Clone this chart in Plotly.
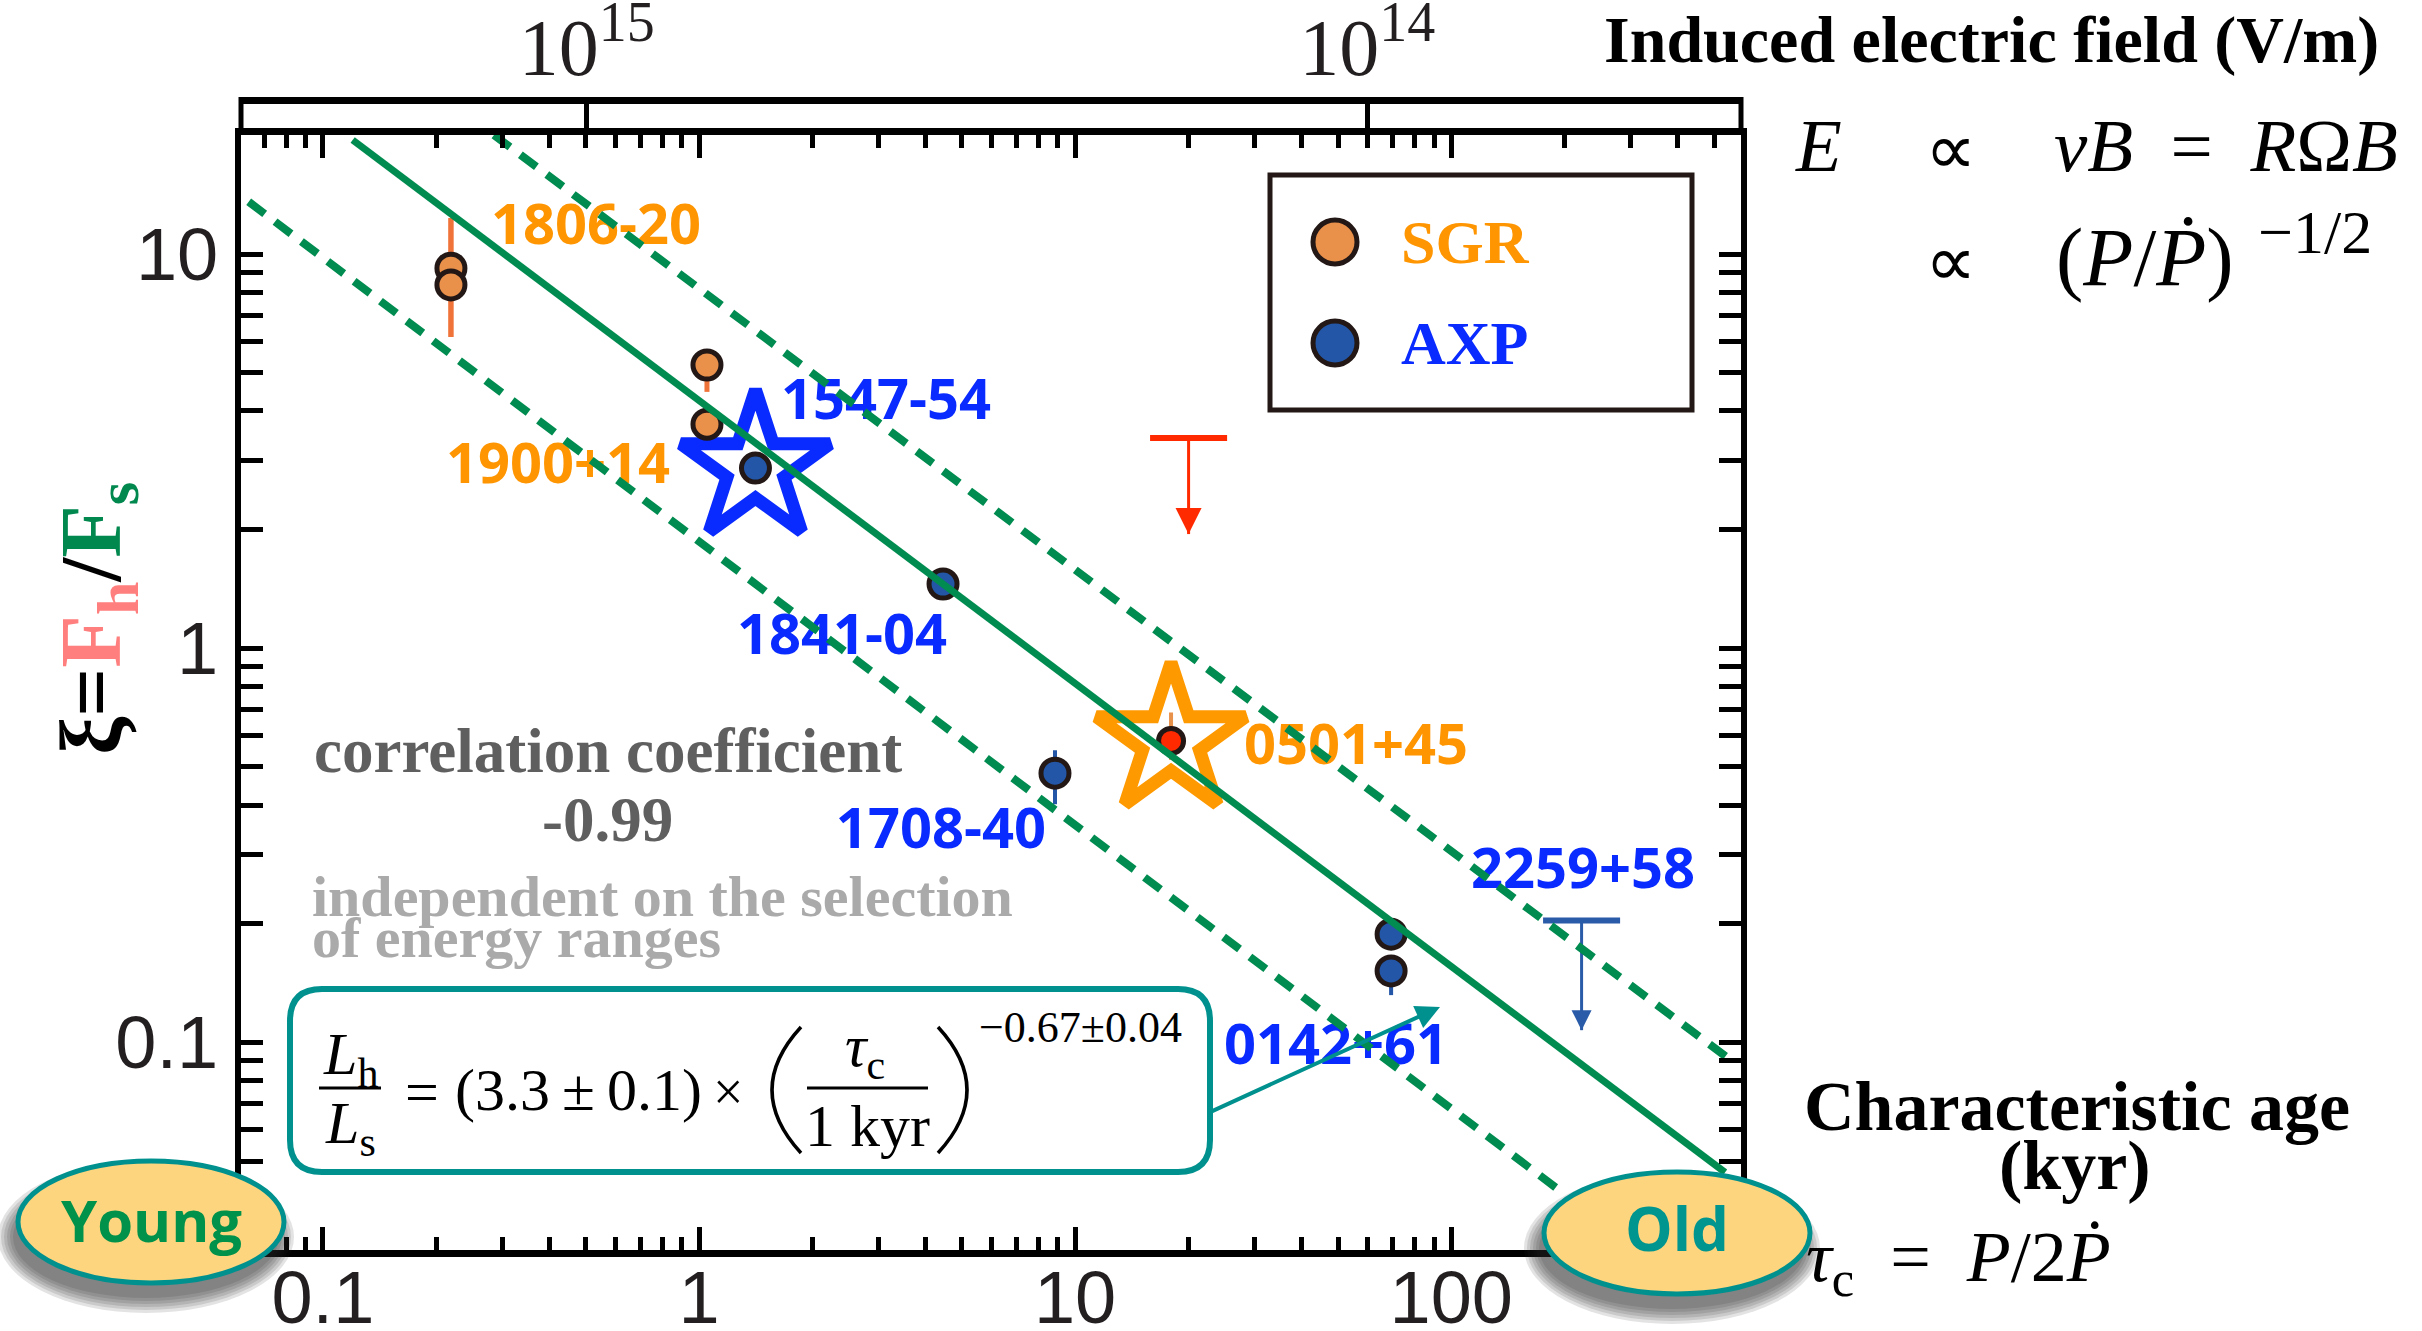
import plotly.graph_objects as go

# ---------------- data ----------------
# hardness ratio xi = F_h / F_s against characteristic age tau_c (kyr)
sgr_age = [0.219, 0.219, 1.05, 1.05]            # SGR 1806-20 (x2), SGR 1900+14 (x2)
sgr_xi = [9.21, 8.35, 5.23, 3.70]
sgr_xi_hi = [12.34, 12.34, 5.40, 3.80]
sgr_xi_lo = [6.16, 6.16, 4.47, 3.60]

sgr0501_age = [17.99]                            # SGR 0501+45
sgr0501_xi = [0.582]
sgr0501_hi = [0.687]
sgr0501_lo = [0.521]

axp_age = [1.413, 4.455, 8.84, 69.2, 69.2]       # 1547-54, 1841-04, 1708-40, 0142+61 (x2)
axp_xi = [2.864, 1.455, 0.482, 0.1882, 0.1518]
axp_xi_hi = [2.864, 1.455, 0.551, 0.1882, 0.1518]
axp_xi_lo = [2.864, 1.455, 0.402, 0.1882, 0.1318]

lim_age = [20.03, 222.1]                         # upper limits (red SGR, 2259+58)
lim_top = [3.414, 0.2037]
lim_tip = [1.948, 0.1074]

star_age = [1.413, 17.99]                        # highlighted sources
star_xi = [2.864, 0.582]

fit_age = [0.12, 534.6]                          # best-fit relation
fit_xi = [19.47, 0.0468]
band_hi_age = [0.285, 567.0]                     # scatter envelope
band_hi_xi = [20.04, 0.0886]
band_lo_age = [0.0635, 201.5]
band_lo_xi = [13.57, 0.0410]

src_names = ["1806-20", "1900+14", "1547-54", "1841-04",
             "1708-40", "0501+45", "2259+58", "0142+61"]
src_class = ["SGR", "SGR", "AXP", "AXP", "AXP", "SGR", "AXP", "AXP"]

age_ticks = [0.1, 1, 10, 100]
age_ticktext = ["0.1", "1", "10", "100"]
xi_ticks = [0.1, 1, 10]
xi_ticktext = ["0.1", "1", "10"]
efield_ticks = [1e15, 1e14]
efield_ticktext = ["10<sup>15</sup>", "10<sup>14</sup>"]

# ---------------- styling / layout geometry ----------------
W, H = 2422, 1331
PX0, PX1 = 241, 1741          # plot area (pixels)
PY0, PY1 = 100, 1250          # induced-field axis .. bottom axis
FRAME_TOP = 135
XR = [-1.2177, 2.7704]        # log10 age range
YR = [-1.5267, 1.302]         # log10 xi range
ER = [15.443, 13.521]         # log10 E-field range (reversed)

ORANGE_FILL = "#e9904b"
BLUE_FILL = "#2356a6"
EDGE = "#231815"
RED = "#ff2a00"
ORANGE_TXT = "#ff9500"
BLUE_TXT = "#0a2bff"
LIM_BLUE = "#2a5ba8"
GREEN = "#008c50"
TEAL = "#00918e"
BUBBLE = "#fcd57e"
INK = "#231f20"

label_px = [(491, 230), (446, 469), (781, 405), (737, 640),
            (1046, 834), (1244, 750), (1471, 874), (1224, 1050)]
label_side = ["left", "left", "left", "left", "right", "left", "left", "left"]


def px(x, y):
    """pixel position -> paper coordinates"""
    return (x - PX0) / (PX1 - PX0), (PY1 - y) / (PY1 - PY0)


def px_to_data(x, y):
    lx = XR[0] + (x - PX0) / (PX1 - PX0) * (XR[1] - XR[0])
    ly = YR[1] - (y - FRAME_TOP) / (PY1 - FRAME_TOP) * (YR[1] - YR[0])
    return 10 ** lx, 10 ** ly


fig = go.Figure()

# source names (drawn first so the fit lines run over them)
for name, cls, (lx, ly), side in zip(src_names, src_class, label_px, label_side):
    tx, ty = px_to_data(lx, ly)
    fig.add_trace(go.Scatter(
        x=[tx], y=[ty], mode="text", text=[name],
        textposition="middle right" if side == "left" else "middle left",
        textfont=dict(family="Open Sans", size=56, weight="bold",
                      color=ORANGE_TXT if cls == "SGR" else BLUE_TXT),
        hoverinfo="skip", showlegend=False))

# highlight stars
for a, x, c in zip(star_age, star_xi, [BLUE_TXT, "#ff9900"]):
    fig.add_trace(go.Scatter(
        x=[a], y=[x], mode="markers", hoverinfo="skip", showlegend=False,
        marker=dict(symbol="star-open", size=112, color=c, line=dict(width=13, color=c))))

# upper limits
cap = 10 ** 0.1024
for a, top, tip, c, bw in zip(lim_age, lim_top, lim_tip, [RED, LIM_BLUE], [26, 20]):
    fig.add_trace(go.Scatter(x=[a / cap, a * cap], y=[top, top], mode="lines",
                             line=dict(color=c, width=6), hoverinfo="skip", showlegend=False))
    fig.add_trace(go.Scatter(x=[a, a], y=[top, tip], mode="lines",
                             line=dict(color=c, width=3), hoverinfo="skip", showlegend=False))
    fig.add_trace(go.Scatter(x=[a], y=[tip], mode="markers", hoverinfo="skip", showlegend=False,
                             marker=dict(symbol="arrow-down", size=bw, color=c, line=dict(width=0))))


def err(y, hi, lo):
    return [h - v for v, h in zip(y, hi)], [v - l for v, l in zip(y, lo)]


up, dn = err(sgr_xi, sgr_xi_hi, sgr_xi_lo)
fig.add_trace(go.Scatter(
    x=sgr_age, y=sgr_xi, mode="markers", name="SGR", showlegend=False,
    error_y=dict(type="data", symmetric=False, array=up, arrayminus=dn,
                 color="#f0743a", thickness=5, width=0),
    marker=dict(size=28, color=ORANGE_FILL, line=dict(color=EDGE, width=5))))

up, dn = err(sgr0501_xi, sgr0501_hi, sgr0501_lo)
fig.add_trace(go.Scatter(
    x=sgr0501_age, y=sgr0501_xi, mode="markers", showlegend=False,
    error_y=dict(type="data", symmetric=False, array=up, arrayminus=dn,
                 color="#e8914a", thickness=4, width=0),
    marker=dict(size=25, color=RED, line=dict(color=EDGE, width=5))))

up, dn = err(axp_xi, axp_xi_hi, axp_xi_lo)
fig.add_trace(go.Scatter(
    x=axp_age, y=axp_xi, mode="markers", name="AXP", showlegend=False,
    error_y=dict(type="data", symmetric=False, array=up, arrayminus=dn,
                 color=BLUE_FILL, thickness=4, width=0),
    marker=dict(size=28, color=BLUE_FILL, line=dict(color=EDGE, width=5))))

# fit and envelope
fig.add_trace(go.Scatter(x=fit_age, y=fit_xi, mode="lines", hoverinfo="skip", showlegend=False,
                         line=dict(color=GREEN, width=7)))
for xs, ys in [(band_hi_age, band_hi_xi), (band_lo_age, band_lo_xi)]:
    fig.add_trace(go.Scatter(x=xs, y=ys, mode="lines", hoverinfo="skip", showlegend=False,
                             line=dict(color=GREEN, width=8, dash="20px,13px")))

# registers the induced-field axis
fig.add_trace(go.Scatter(x=[], y=[], xaxis="x2", yaxis="y", showlegend=False))

axis_common = dict(showline=True, linecolor="black", ticks="inside", tickcolor="black",
                   showgrid=False, zeroline=False, type="log", automargin=False)
minor = dict(ticks="inside", ticklen=13, tickwidth=5, tickcolor="black", dtick="D1", showgrid=False)

fig.update_layout(
    template="none",
    width=W, height=H,
    margin=dict(l=PX0, r=W - PX1, t=PY0, b=H - PY1, pad=0, autoexpand=False),
    paper_bgcolor="white", plot_bgcolor="white", showlegend=False,
    xaxis=dict(**axis_common, range=XR, linewidth=7, mirror="allticks", ticklen=23, tickwidth=5,
               tickvals=age_ticks, ticktext=age_ticktext, minor=minor, ticklabelstandoff=-23,
               tickfont=dict(family="Liberation Sans", size=74, color=INK)),
    yaxis=dict(**axis_common, range=YR, linewidth=6, mirror="allticks", ticklen=22, tickwidth=5,
               domain=[0, (PY1 - FRAME_TOP) / (PY1 - PY0)],
               tickvals=xi_ticks, ticktext=xi_ticktext, minor=minor, ticklabelstandoff=2,
               tickfont=dict(family="Liberation Sans", size=74, color=INK)),
    xaxis2=dict(**axis_common, range=ER, overlaying="x", side="top", anchor="free", position=1,
                linewidth=7, ticklen=25, tickwidth=5, tickvals=efield_ticks,
                ticktext=efield_ticktext, ticklabelstandoff=-10,
                tickfont=dict(family="Liberation Serif", size=80, color=INK)),
)

shapes = []


def seg(x0, y0, x1, y1, color="black", width=3):
    a, b = px(x0, y0)
    c, d = px(x1, y1)
    shapes.append(dict(type="line", xref="paper", yref="paper", x0=a, y0=b, x1=c, y1=d,
                       line=dict(color=color, width=width), layer="above"))


def curve(x0, y0, cx, cy, x1, y1, width=3):
    p = [px(x0, y0), px(cx, cy), px(x1, y1)]
    path = "M{:.5f},{:.5f} Q{:.5f},{:.5f} {:.5f},{:.5f}".format(*p[0], *p[1], *p[2])
    shapes.append(dict(type="path", xref="paper", yref="paper", path=path,
                       line=dict(color="black", width=width), layer="above"))


def ellipse(cx, cy, rx, ry, fill, line_color=None, line_width=0):
    a, b = px(cx, cy)
    shapes.append(dict(type="circle", xref="paper", yref="paper", xsizemode="pixel",
                       ysizemode="pixel", xanchor=a, yanchor=b, x0=-rx, x1=rx, y0=-ry, y1=ry,
                       fillcolor=fill, layer="above",
                       line=dict(color=line_color or "rgba(0,0,0,0)", width=line_width)))


def rounded_box(x0, y0, x1, y1, r, color, width):
    def P(x, y):
        a, b = px(x, y)
        return "{:.5f},{:.5f}".format(a, b)
    path = (f"M{P(x0 + r, y0)} L{P(x1 - r, y0)} Q{P(x1, y0)} {P(x1, y0 + r)} "
            f"L{P(x1, y1 - r)} Q{P(x1, y1)} {P(x1 - r, y1)} L{P(x0 + r, y1)} "
            f"Q{P(x0, y1)} {P(x0, y1 - r)} L{P(x0, y0 + r)} Q{P(x0, y0)} {P(x0 + r, y0)} Z")
    shapes.append(dict(type="path", xref="paper", yref="paper", path=path, fillcolor="white",
                       line=dict(color=color, width=width), layer="below"))


# ends of the induced-field axis
seg(PX0, PY0 - 3, PX0, 128, width=5)
seg(PX1, PY0 - 3, PX1, 132, width=5)

# legend frame and symbols
a0, b0 = px(1270, 410)
a1, b1 = px(1692, 175)
shapes.append(dict(type="rect", xref="paper", yref="paper", x0=a0, y0=b0, x1=a1, y1=b1,
                   line=dict(color=EDGE, width=5), fillcolor="white", layer="below"))
ellipse(1335, 242, 22, 22, ORANGE_FILL, EDGE, 5)
ellipse(1335, 343, 22, 22, BLUE_FILL, EDGE, 5)

# formula box
rounded_box(290, 989, 1210, 1172, 32, TEAL, 6)
seg(319, 1088, 381, 1088, width=3)
seg(807, 1088, 928, 1088, width=3)
curve(801, 1027, 743, 1090, 801, 1153, width=3.5)
curve(938, 1027, 996, 1090, 938, 1153, width=3.5)

# "Young" / "Old" bubbles with soft shadows
for cx, cy in [(151, 1222), (1677, 1233)]:
    for k in range(6):
        ellipse(cx - 5, cy + 15, 133 + 3 * k, 61 + 3 * k, "rgba(40,40,40,0.13)")
    ellipse(cx, cy, 133, 61, BUBBLE, TEAL, 5)

fig.update_layout(shapes=shapes)


def note(text, x, y, size, family="Liberation Serif", color="black", xanchor="center",
         weight="normal", angle=0):
    a, b = px(x, y)
    fig.add_annotation(text=text, x=a, y=b, xref="paper", yref="paper", showarrow=False,
                       xanchor=xanchor, yanchor="middle", textangle=angle,
                       font=dict(family=family, size=size, color=color, weight=weight))


# axis titles and relations
note("Induced electric field (V/m)", 1991, 40, 66, weight="bold")
note("<i>E</i>", 1793, 145, 75, xanchor="left")
note("\u221d", 1950, 150, 72)
note("<i>vB</i>\u2002=\u2002<i>R</i>\u03a9<i>B</i>", 2052, 145, 75, xanchor="left")
note("\u221d", 1950, 262, 72)
note("(<i>P</i>/<i>\u1e56</i>)", 2054, 257, 82, xanchor="left")
note("\u22121/2", 2256, 232, 62, xanchor="left")
note("Characteristic age", 2077, 1106, 70, weight="bold")
note("(kyr)", 2075, 1165, 70, weight="bold")
note("<i>\u03c4</i><sub>c</sub>\u2002=\u2002<i>P</i>/2<i>\u1e56</i>", 1804, 1262, 72, xanchor="left")

note("\u03be=<span style='color:#ff7f7f'>F<sub>h</sub></span>/"
     "<span style='color:#00884f'>F<sub>s</sub></span>",
     97, 619, 86, weight="bold", angle=-90)

# correlation notes
note("correlation coefficient", 312, 751, 63, color="#5f5f5f", xanchor="left", weight="bold")
note("-0.99", 607, 820, 63, color="#5f5f5f", weight="bold")
note("independent on the selection", 310, 896, 58, color="#aaaaaa", xanchor="left", weight="bold")
note("of energy ranges", 310, 937, 58, color="#aaaaaa", xanchor="left", weight="bold")

# legend text
note("SGR", 1399, 242, 62, color=ORANGE_TXT, xanchor="left", weight="bold")
note("AXP", 1399, 343, 62, color=BLUE_TXT, xanchor="left", weight="bold")

# bubble text
note("Young", 151, 1219, 58, family="Open Sans", color="#00914a", weight="bold")
note("Old", 1677, 1228, 60, family="Open Sans", color="#00958f", weight="bold")

# fitted relation
note("<i>L</i><sub>h</sub>", 350, 1058, 60)
note("<i>L</i><sub>s</sub>", 350, 1127, 60)
note("=", 422, 1092, 60)
note("(3.3\u2009\u00b1\u20090.1)", 578, 1090, 60)
note("\u00d7", 728, 1092, 54)
note("<i>\u03c4</i><sub>c</sub>", 865, 1050, 60)
note("1 kyr", 867, 1126, 60)
note("\u22120.67\u00b10.04", 977, 1027, 44, xanchor="left")

a, b = px(1440, 1007)
fig.add_annotation(x=a, y=b, xref="paper", yref="paper", ax=1208 - 1440, ay=1113 - 1007,
                   axref="pixel", ayref="pixel", text="", showarrow=True, arrowhead=2,
                   arrowsize=1.2, arrowwidth=4, arrowcolor=TEAL)

fig.write_html("out.html", config={"displayModeBar": False})
